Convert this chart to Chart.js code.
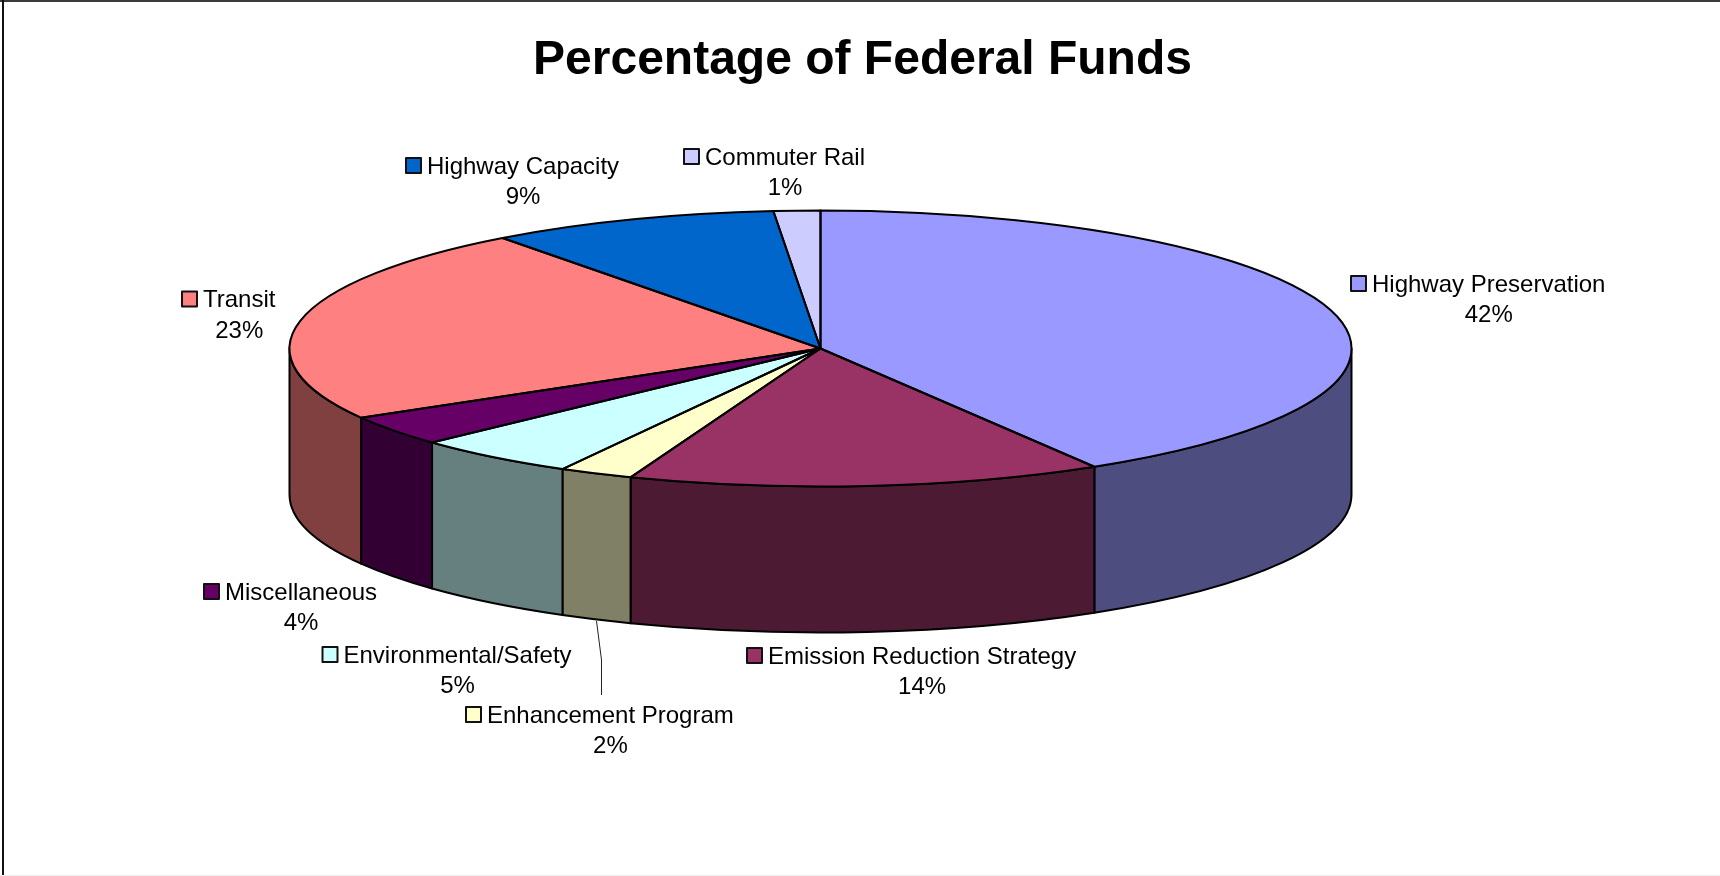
<!DOCTYPE html>
<html>
<head>
<meta charset="utf-8">
<style>html,body{margin:0;padding:0;background:#fff;overflow:hidden}canvas{display:block}</style>
<script src="https://cdn.jsdelivr.net/npm/chart.js@4/dist/chart.umd.min.js"></script>
</head>
<body>
<canvas id="c" width="1720" height="876" style="width:1720px;height:876px"></canvas>
<script>
const chartTitle = "Percentage of Federal Funds";
const categories = ["Highway Preservation","Emission Reduction Strategy","Enhancement Program","Environmental/Safety","Miscellaneous","Transit","Highway Capacity","Commuter Rail"];
const percentValues = [41.5,14.49,2.26,5.0,3.59,23.21,8.83,1.42];
const percentLabels = ["42%","14%","2%","5%","4%","23%","9%","1%"];
const topColors = ["#9999FF","#993366","#FFFFCC","#CCFFFF","#660066","#FF8080","#0066CC","#CCCCFF"];
const sideColors = ["#4D4D80","#4D1A33","#808066","#668080","#330033","#804040","#003366","#666680"];
// label layout: text start x, name line centre y, percent line centre y
const labelX = [1372,768,487,343.5,225,203,427,705];
const labelY = [285,657,716,656,593,300.5,167,158];
const pctY = [315,687,746,686,623,331,197,188];

const PIE = {cx:820.5, cy:348.5, rx:531, ry:138, depth:146};
const FONT = '24px "Liberation Sans", Arial, sans-serif';

const pie3d = {
  id:'pie3d',
  beforeDraw(chart){
    const c = chart.ctx, W = chart.width, H = chart.height;
    c.save();
    c.fillStyle = '#fff'; c.fillRect(0,0,W,H);
    c.fillStyle = '#3a3a3a'; c.fillRect(0,0,W,2);
    c.fillStyle = '#111'; c.fillRect(2,0,2,H-1);
    c.fillStyle = '#eeeeee'; c.fillRect(0,H-1,W,1);
    c.restore();
  },
  beforeDatasetsDraw(chart){
    const c = chart.ctx, arcs = chart.getDatasetMeta(0).data;
    const {cx,cy,rx,ry,depth} = PIE;
    c.save();
    c.lineWidth = 2; c.strokeStyle = '#000'; c.lineJoin = 'round';
    arcs.forEach((el,i)=>{
      const p = el.getProps(['startAngle','endAngle']);
      const a = Math.max(p.startAngle,0), b = Math.min(p.endAngle,Math.PI);
      if (b <= a) return;
      c.beginPath();
      c.ellipse(cx,cy,rx,ry,0,a,b);
      c.ellipse(cx,cy+depth,rx,ry,0,b,a,true);
      c.closePath();
      c.fillStyle = sideColors[i];
      c.fill(); c.stroke();
    });
    c.restore();
  },
  beforeDatasetDraw(chart){
    const el = chart.getDatasetMeta(0).data[0], c = chart.ctx;
    const p = el.getProps(['x','y']);
    c.save();
    c.translate(PIE.cx,PIE.cy);
    c.scale(1,PIE.ry/PIE.rx);
    c.translate(-p.x,-p.y);
  },
  afterDatasetDraw(chart){ chart.ctx.restore(); },
  afterDatasetsDraw(chart){
    const c = chart.ctx, arcs = chart.getDatasetMeta(0).data;
    const {cx,cy,rx,ry} = PIE;
    c.save();
    c.lineWidth = 2; c.strokeStyle = '#000'; c.lineJoin = 'round';
    arcs.forEach(el=>{
      const p = el.getProps(['startAngle','endAngle']);
      c.beginPath();
      c.moveTo(cx,cy);
      c.ellipse(cx,cy,rx,ry,0,p.startAngle,p.endAngle);
      c.closePath();
      c.stroke();
    });
    // leader line for the Enhancement Program label
    c.lineWidth = 1; c.strokeStyle = '#222';
    c.beginPath(); c.moveTo(596.5,621); c.lineTo(601.5,660); c.lineTo(601.5,695); c.stroke();
    // data labels
    c.font = FONT; c.fillStyle = '#000'; c.textBaseline = 'middle';
    categories.forEach((name,i)=>{
      const w = c.measureText(name).width, x = labelX[i], y = labelY[i];
      c.textAlign = 'left';
      c.fillText(name,x,y);
      c.textAlign = 'center';
      c.fillText(percentLabels[i],x+w/2,pctY[i]);
      c.fillStyle = topColors[i];
      c.fillRect(x-21,y-9,15,15);
      c.lineWidth = 2; c.strokeStyle = '#111';
      c.strokeRect(x-21,y-9,15,15);
      c.fillStyle = '#000';
    });
    c.restore();
  }
};

new Chart(document.getElementById('c'),{
  type:'pie',
  data:{labels:categories,datasets:[{data:percentValues,backgroundColor:topColors,borderWidth:0,clip:false}]},
  options:{
    responsive:false,animation:false,
    radius:PIE.rx,
    layout:{padding:{left:5}},
    plugins:{
      legend:{display:false},tooltip:{enabled:false},
      title:{display:true,text:chartTitle,color:'#000',align:'center',
        font:{family:'"Liberation Sans", Arial, sans-serif',size:48,weight:'bold'},
        padding:{top:32,bottom:10}}
    }
  },
  plugins:[pie3d]
});
</script>
</body>
</html>
